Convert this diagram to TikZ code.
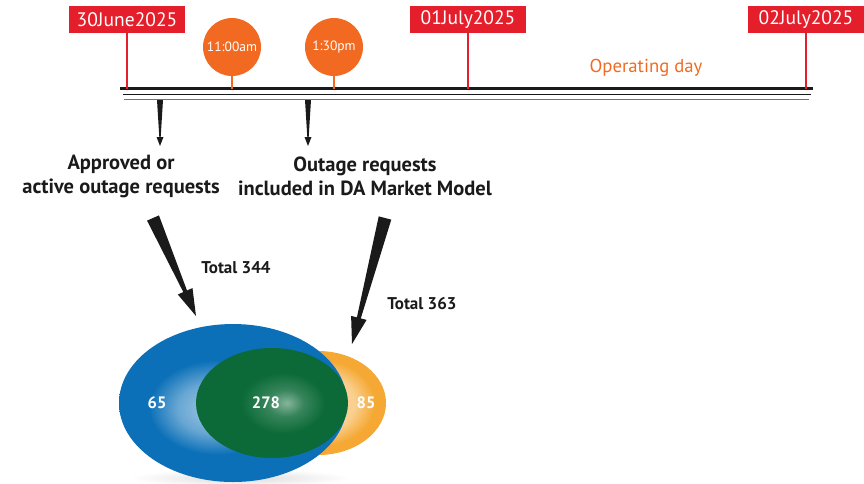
\documentclass[tikz,border=0pt]{standalone}
\usepackage{fontspec}
\setmainfont{PT Sans}
\usetikzlibrary{calc,positioning}

\definecolor{datered}{HTML}{E41E2B}
\definecolor{timeorange}{HTML}{F26A21}
\definecolor{setblue}{HTML}{0B70B8}
\definecolor{setgreen}{HTML}{0B6A37}
\definecolor{setamber}{HTML}{F5A833}
\definecolor{inkblack}{HTML}{1A1A1A}

\pgfdeclareradialshading{blueglow}{\pgfpoint{-5bp}{-2bp}}{color(0bp)=(setblue!40!white); color(8bp)=(setblue!62!white); color(15bp)=(setblue); color(50bp)=(setblue)}
\pgfdeclareradialshading{greenglow}{\pgfpoint{5bp}{0bp}}{color(0bp)=(setgreen!50!white); color(6bp)=(setgreen!82!white); color(14bp)=(setgreen); color(50bp)=(setgreen)}
\pgfdeclareradialshading{amberglow}{\pgfpoint{0bp}{0bp}}{color(0bp)=(setamber!40!white); color(13.5bp)=(setamber!55!white); color(21bp)=(setamber); color(50bp)=(setamber)}
\pgfdeclareradialshading{floorglow}{\pgfpoint{0bp}{0bp}}{color(0bp)=(black!14); color(25bp)=(white); color(50bp)=(white)}

% tapered arrow: from, to, half width at start, half width at head, half head width, head length
\newcommand{\taperarrow}[6]{%
  \coordinate (hb) at ($(#2)!#6!(#1)$);
  \fill[inkblack] ($(#1)!#3!90:(#2)$) -- ($(hb)!#4!90:(#2)$) -- ($(hb)!#5!90:(#2)$) -- (#2)
    -- ($(hb)!#5!-90:(#2)$) -- ($(hb)!#4!-90:(#2)$) -- ($(#1)!#3!-90:(#2)$) -- cycle;
}

\begin{document}
\begin{tikzpicture}[x=1pt,y=-1pt,
  datebox/.style={fill=datered,text=white,minimum width=116pt,minimum height=27pt,inner sep=0pt,font=\fontsize{19.5}{19.5}\selectfont},
  timedot/.style={circle,fill=timeorange,text=white,minimum size=58pt,inner sep=0pt,font=\fontsize{13.5}{14}\selectfont},
  stem/.style={datered,line width=2pt},
  dotstem/.style={timeorange,line width=1.2pt},
  caption/.style={align=center,text=inkblack,font=\bfseries\fontsize{20.5}{24}\selectfont},
  total/.style={text=inkblack,font=\bfseries\fontsize{17}{17}\selectfont},
  count/.style={text=white,font=\bfseries\fontsize{16.5}{16.5}\selectfont}]

    \useasboundingbox (0,0) rectangle (864,483);

    % timeline
    \coordinate (tl) at (120,88.5);
    \coordinate (tr) at (813,88.5);
    \draw[inkblack,line width=3pt] (tl) -- (tr);
    \draw[inkblack,line width=1.4pt] ($(tl)+(3,6)$) -- ($(tr)+(-2,6)$);
    \draw[black!55,line width=0.9pt] ($(tl)+(4,11)$) -- ($(tr)+(-4,11)$);

    \node[datebox] (jun30) at (127,19.5) {30June2025};
    \node[datebox] (jul01) at (468,19.5) {01July2025};
    \node[datebox] (jul02) at (806,19.5) {02July2025};

    \node[timedot] (t1100) at (232,47) {11:00am};
    \node[timedot] (t1330) at (334,47) {1:30pm};

    \node[text=timeorange,font=\fontsize{18.7}{18.7}\selectfont] (opday) at (646,68) {Operating day};

    \draw[stem] (jun30.south) -- (jun30.south |- tl);
    \draw[stem] (jul01.south) -- (jul01.south |- tl);
    \draw[stem] (jul02.south) -- (jul02.south |- tl);
    \draw[dotstem] (t1100.south) -- (t1100.south |- tl);
    \draw[dotstem] (t1330.south) -- (t1330.south |- tl);

    % captions
    \node[caption] (approved) at (121,176) {Approved or\\active outage requests};
    \node[caption] (included) at (365,176) {Outage requests\\included in DA Market Model};

    \coordinate (a1s) at (160,100);
    \coordinate (a1e) at (160,146);
    \coordinate (a2s) at (308,100);
    \coordinate (a2e) at (308,146);
    \taperarrow{a1s}{a1e}{3pt}{0.7pt}{3.5pt}{9pt}
    \taperarrow{a2s}{a2e}{3pt}{0.7pt}{3.5pt}{9pt}

    \coordinate (b1s) at (153,218);
    \coordinate (b1e) at (196,316);
    \coordinate (b2s) at (385,218);
    \coordinate (b2e) at (352,344);
    \taperarrow{b1s}{b1e}{6.5pt}{2pt}{8pt}{27pt}
    \taperarrow{b2s}{b2e}{6.5pt}{2pt}{8pt}{27pt}

    \node[total] (tot344) at (236,268) {Total 344};
    \node[total] (tot363) at (422,304) {Total 363};

    % venn
    \shade[shading=floorglow] (240,478) ellipse [x radius=110pt,y radius=9pt];
    \shade[shading=amberglow] (318,403) ellipse [x radius=68pt,y radius=52pt];
    \shade[shading=blueglow] (233,403) ellipse [x radius=114pt,y radius=79pt];
    \shade[shading=greenglow] (272,403) ellipse [x radius=76pt,y radius=55pt];

    \node[count] (only1) at (157,403) {65};
    \node[count] (both) at (266,403) {278};
    \node[count] (only2) at (366,403) {85};
\end{tikzpicture}
\end{document}
